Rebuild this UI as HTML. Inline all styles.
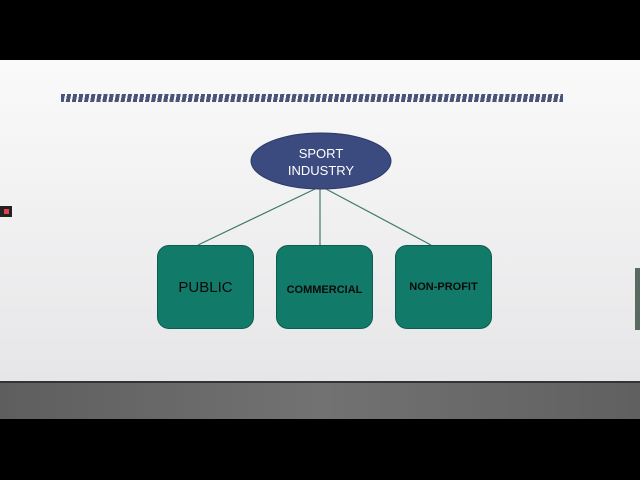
<!DOCTYPE html>
<html><head><style>
body{margin:0;width:640px;height:480px;background:#000;overflow:hidden;position:relative;font-family:"Liberation Sans",sans-serif}
.slide{position:absolute;left:0;top:60px;width:640px;height:321px;background:linear-gradient(#fafafa,#e6e6e8)}
.band{position:absolute;left:0;top:381px;width:640px;height:36px;background:linear-gradient(90deg,#5e5e5e,#727272 50%,#606060);border-top:2px solid #333}
.bar{position:absolute;left:61px;top:94px;width:502px;height:8px;background:repeating-linear-gradient(100deg,#4a5478 0 4px,transparent 4px 6px)}
.box{position:absolute;top:245px;width:97px;height:84px;background:#127a69;border:1px solid #0c5c4f;border-radius:12px;box-sizing:border-box;display:flex;align-items:center;justify-content:center;color:#0a0a0a}
</style></head><body>
<div class="slide"></div>
<div class="bar"></div>
<svg style="position:absolute;left:0;top:0" width="640" height="480">
<line x1="315" y1="189" x2="198" y2="245" stroke="#3f7a6a" stroke-width="1.2"/>
<line x1="320" y1="189" x2="320" y2="245" stroke="#3f7a6a" stroke-width="1.2"/>
<line x1="326" y1="189" x2="431" y2="245" stroke="#3f7a6a" stroke-width="1.2"/>
<ellipse cx="321" cy="161" rx="70" ry="28" fill="#3b4a7f" stroke="#2c3966"/>
<text x="321" y="158" fill="#fff" font-size="13" text-anchor="middle" font-family="Liberation Sans">SPORT</text>
<text x="321" y="175" fill="#fff" font-size="13" text-anchor="middle" font-family="Liberation Sans">INDUSTRY</text>
<rect x="0" y="206" width="12" height="11" fill="#222"/><rect x="4" y="209" width="5" height="5" fill="#e04050"/>
<rect x="635" y="268" width="5" height="62" fill="#5a6a60"/>
</svg>
<div class="box" style="left:157px;font-size:15px">PUBLIC</div>
<div class="box" style="left:276px;font-size:11px;font-weight:bold;padding-top:6px">COMMERCIAL</div>
<div class="box" style="left:395px;font-size:11px;font-weight:bold">NON-PROFIT</div>
<div class="band"></div>
</body></html>
